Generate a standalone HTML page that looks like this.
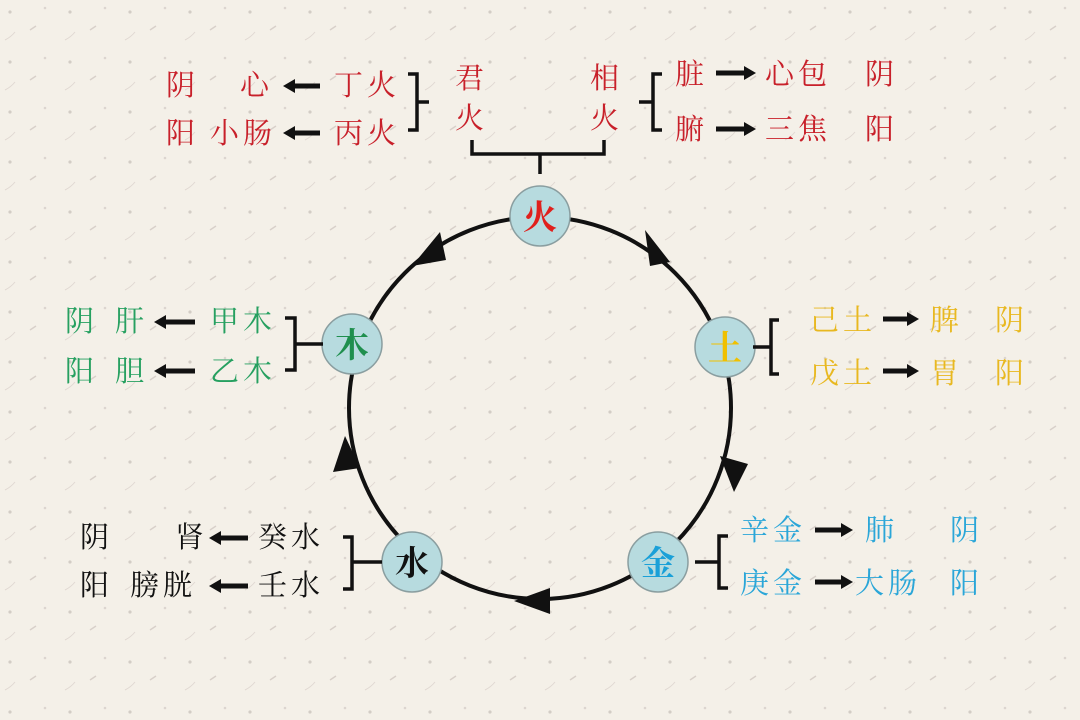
<!DOCTYPE html>
<html><head><meta charset="utf-8"><style>
html,body{margin:0;padding:0;background:#f4f0e8;}
svg{display:block}
text{font-family:"Liberation Serif","Noto Serif CJK SC","Noto Sans CJK SC",serif;font-size:29px;letter-spacing:4px;}
</style></head><body>
<svg width="1080" height="720" viewBox="0 0 1080 720" xmlns="http://www.w3.org/2000/svg">
<defs>
<pattern id="p" width="60" height="50" patternUnits="userSpaceOnUse">
<circle cx="10" cy="12" r="1.6" fill="#d3cdc6"/><path d="M30 30 l6 -4" stroke="#d8d0ca" stroke-width="1.5"/>
<circle cx="45" cy="8" r="1.3" fill="#dcd5cf"/><path d="M5 40 q6 -3 10 -8" stroke="#e0d8d2" fill="none"/>
</pattern>
</defs>
<rect width="1080" height="720" fill="#f4f0e8"/>
<rect width="1080" height="720" fill="url(#p)"/>
<circle cx="540" cy="408" r="191" fill="none" stroke="#111" stroke-width="4"/>
<g fill="#111">
<polygon points="440,232 412,266 446,260"/>
<polygon points="670,262 645,230 650,266"/>
<polygon points="734,492 720,456 748,464"/>
<polygon points="514,601 550,588 550,614"/>
<polygon points="345,436 333,472 360,468"/>
</g>
<g stroke="#8a9ea0" stroke-width="1.5" fill="#b7dbdf">
<circle cx="540" cy="216" r="30"/><circle cx="725" cy="347" r="30"/>
<circle cx="658" cy="562" r="30"/><circle cx="412" cy="562" r="30"/><circle cx="352" cy="344" r="30"/>
</g>
<g font-weight="bold" text-anchor="middle">
<text x="540" y="229" fill="#e0201c" style="font-size:34px;letter-spacing:0">火</text>
<text x="725" y="360" fill="#f0c000" style="font-size:34px;letter-spacing:0">土</text>
<text x="658" y="575" fill="#1aa0d8" style="font-size:34px;letter-spacing:0">金</text>
<text x="412" y="575" fill="#111" style="font-size:34px;letter-spacing:0">水</text>
<text x="352" y="357" fill="#1f8f4e" style="font-size:34px;letter-spacing:0">木</text>
</g>
<g stroke="#111" stroke-width="3.5" fill="none">
<path d="M408 74 h9 v56 h-9 M417 102 h12"/>
<path d="M662 74 h-9 v56 h9 M653 102 h-14"/>
<path d="M472 140 v14 h132 v-14 M540 154 v20"/>
<path d="M285 318 h10 v52 h-10 M295 344 h28"/>
<path d="M779 320 h-8 v54 h8 M771 347 h-18"/>
<path d="M343 537 h9 v52 h-9 M352 562 h30"/>
<path d="M728 536 h-9 v52 h9 M719 562 h-24"/>
</g>
<g stroke="#111" stroke-width="5">
<path d="M292 86 h28 M292 133 h28 M163 322 h32 M163 371 h32 M218 538 h30 M218 586 h30"/>
<path d="M716 73 h28 M716 129 h28 M883 319 h24 M883 371 h24 M815 530 h26 M815 582 h26"/>
</g>
<g fill="#111">
<polygon points="283,86 295,79 295,93"/><polygon points="283,133 295,126 295,140"/>
<polygon points="154,322 166,315 166,329"/><polygon points="154,371 166,364 166,378"/>
<polygon points="209,538 221,531 221,545"/><polygon points="209,586 221,579 221,593"/>
<polygon points="756,73 744,66 744,80"/><polygon points="756,129 744,122 744,136"/>
<polygon points="919,319 907,312 907,326"/><polygon points="919,371 907,364 907,378"/>
<polygon points="853,530 841,523 841,537"/><polygon points="853,582 841,575 841,589"/>
</g>
<g fill="#c8202a">
<text x="166" y="95">阴</text><text x="240" y="95">心</text><text x="334" y="95">丁火</text>
<text x="166" y="143">阳</text><text x="210" y="143">小肠</text><text x="334" y="143">丙火</text>
<text x="455" y="88">君</text><text x="455" y="128">火</text>
<text x="590" y="88">相</text><text x="590" y="128">火</text>
<text x="675" y="84">脏</text><text x="765" y="84">心包</text><text x="865" y="84">阴</text>
<text x="675" y="139">腑</text><text x="765" y="139">三焦</text><text x="865" y="139">阳</text>
</g>
<g fill="#26a060">
<text x="65" y="331">阴</text><text x="115" y="331">肝</text><text x="210" y="331">甲木</text>
<text x="65" y="381">阳</text><text x="115" y="381">胆</text><text x="210" y="381">乙木</text>
</g>
<g fill="#e8b820">
<text x="810" y="330">己土</text><text x="930" y="330">脾</text><text x="995" y="330">阴</text>
<text x="810" y="383">戊土</text><text x="930" y="383">胃</text><text x="995" y="383">阳</text>
</g>
<g fill="#2aa6d8">
<text x="740" y="540">辛金</text><text x="865" y="540">肺</text><text x="950" y="540">阴</text>
<text x="740" y="593">庚金</text><text x="855" y="593">大肠</text><text x="950" y="593">阳</text>
</g>
<g fill="#111">
<text x="80" y="547">阴</text><text x="175" y="547">肾</text><text x="258" y="547">癸水</text>
<text x="80" y="595">阳</text><text x="130" y="595">膀胱</text><text x="258" y="595">壬水</text>
</g>
</svg>
</body></html>
